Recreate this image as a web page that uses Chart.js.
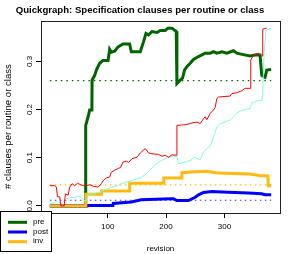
<!DOCTYPE html>
<html>
<head>
<meta charset="utf-8">
<script src="https://cdn.jsdelivr.net/npm/chart.js@4.4.0/dist/chart.umd.min.js"></script>
<style>
  html, body { margin: 0; padding: 0; background: #fff; }
  canvas { display: block; }
</style>
</head>
<body>
<canvas id="chart" width="294" height="254"></canvas>
<script>
// values (revision -> clauses per routine or class)
const preRev = [1, 62, 62.4, 66.5, 69.2, 73, 73.3, 77.8, 80.7, 86.3, 92.1, 100.7, 103.4, 106.3, 112, 117.8, 126.3, 137.6,
  140.5, 155.9, 161.5, 165.6, 170.1, 175.9, 184.4, 190.1, 198.6, 203.2, 210.1, 214.5, 217.5, 218.6, 224.3, 228.2, 231.6,
  235.7, 241.4, 247, 255.6, 267, 275.6, 281.2, 287, 295.6, 304.1, 315.4, 321.2, 332.5, 343.9, 352.5, 361, 363.9, 369.6,
  372.5, 380];
const preVal = [0, 0, 0.167, 0.185, 0.199, 0.199, 0.261, 0.271, 0.282, 0.296, 0.302, 0.302, 0.325, 0.319, 0.321, 0.330,
  0.336, 0.336, 0.32, 0.32, 0.341, 0.358, 0.355, 0.362, 0.36, 0.364, 0.364, 0.369, 0.369, 0.365, 0.362, 0.254, 0.261,
  0.265, 0.282, 0.289, 0.296, 0.304, 0.31, 0.317, 0.317, 0.32, 0.317, 0.32, 0.317, 0.322, 0.317, 0.314, 0.311, 0.313,
  0.313, 0.271, 0.267, 0.282, 0.283];

const postRev = [1, 64, 64.5, 109, 109.5, 140.5, 157.6, 207.2, 212.8, 218.6, 238.5, 249.9, 255.6, 264.1, 278.5, 295.6,
  341, 363.9, 369.6, 380];
const postVal = [0, 0, 0.001, 0.001, 0.005, 0.008, 0.0125, 0.0146, 0.0146, 0.011, 0.011, 0.018, 0.023, 0.028, 0.03,
  0.029, 0.027, 0.025, 0.023, 0.023];

const invRev = [1, 62.4, 62.6, 89.2, 89.4, 137.6, 137.8, 196, 196.2, 227, 227.2, 250, 270, 285, 300, 343, 360, 374.5,
  375, 380];
const invVal = [0, 0, 0.024, 0.024, 0.031, 0.031, 0.047, 0.047, 0.058, 0.058, 0.069, 0.071, 0.072, 0.069, 0.068, 0.066,
  0.063, 0.062, 0.042, 0.042];

const redRev = [1, 9.4, 12.3, 14, 17.9, 19.7, 25.5, 27.7, 32.3, 35, 39.1, 43.6, 48.2, 53.8, 57.9, 63.6, 69.2, 75, 83.6,
  89.2, 92.1, 97.8, 103.4, 106.3, 112, 116.6, 122.2, 126.3, 132, 135.9, 141.7, 150.3, 155.9, 164.4, 170.1, 175.9, 187.2,
  193, 198.6, 204.3, 210.1, 218.4, 218.6, 235.7, 244.3, 252.8, 258.5, 264.1, 267, 269.9, 275.6, 281.2, 284.1, 287, 289.7,
  309.7, 312.6, 321.2, 329.7, 335.4, 343.9, 345.1, 349.6, 358.1, 363.9, 365.4, 365.6, 372.5];
const redVal = [0.042, 0.042, 0.039, 0.019, 0.019, 0, 0, 0.025, 0.022, 0.039, 0.046, 0.042, 0.047, 0.044, 0.042, 0.042,
  0.044, 0.041, 0.039, 0.046, 0.052, 0.058, 0.06, 0.07, 0.074, 0.077, 0.08, 0.091, 0.093, 0.09, 0.098, 0.101, 0.11,
  0.119, 0.11, 0.108, 0.107, 0.103, 0.105, 0.101, 0.106, 0.105, 0.167, 0.169, 0.172, 0.174, 0.171, 0.181, 0.185, 0.179,
  0.192, 0.199, 0.204, 0.223, 0.226, 0.228, 0.233, 0.235, 0.239, 0.244, 0.244, 0.303, 0.313, 0.317, 0.311, 0.311, 0.367,
  0.369];

const cyanRev = [1, 6.7, 14, 20.9, 29.4, 36.2, 43.1, 49.9, 55, 60.2, 63.6, 67, 73.8, 82.4, 87.5, 94.4, 101.2, 109.7,
  116.6, 123.4, 132, 140.5, 149, 157.6, 166.2, 173, 181.5, 191.8, 202.1, 212.3, 218.6, 221.4, 232.8, 241.4, 247, 258.5,
  264.1, 269.9, 275.6, 281.2, 287, 292.6, 301.2, 309.7, 315.4, 321.2, 326.8, 335.4, 343.9, 346.8, 355.4, 363.9, 365.5,
  367.9, 371.3, 380];
const cyanVal = [0.004, 0.006, 0.009, 0.005, 0.015, 0.017, 0.018, 0.02, 0.017, 0.011, 0.011, 0.025, 0.024, 0.028, 0.028,
  0.033, 0.036, 0.04, 0.042, 0.046, 0.049, 0.052, 0.056, 0.059, 0.067, 0.075, 0.086, 0.094, 0.1, 0.103, 0.103, 0.0875,
  0.091, 0.094, 0.101, 0.096, 0.112, 0.119, 0.124, 0.143, 0.164, 0.171, 0.174, 0.178, 0.185, 0.192, 0.197, 0.2, 0.202,
  0.214, 0.218, 0.219, 0.23, 0.317, 0.365, 0.369];

// averages drawn as dotted lines
const meanRev = [1, 380];
const preMean = 0.26, postMean = 0.0117, invMean = 0.0437;

const xTicks = [0, 100, 200, 300];
const yTicks = [0, 0.1, 0.2, 0.3];
const legendNames = ['pre', 'post', 'inv'];

const FONT = "'Liberation Sans', Arial, Helvetica, sans-serif";
const GREEN = '#006400', BLUE = '#0000ff', ORANGE = '#ffb90f';

const pts = (rev, val) => rev.map((r, i) => ({x: r, y: val[i]}));
const flat = (rev, v) => rev.map(r => ({x: r, y: v}));

// R style 4% padding round the data range
const allRev = [].concat(preRev, postRev, invRev, redRev, cyanRev);
const allVal = [].concat(preVal, postVal, invVal, redVal, cyanVal);
const xLo = Math.min(...allRev), xHi = Math.max(...allRev);
const yLo = Math.min(...allVal), yHi = Math.max(...allVal);
const xPad = (xHi - xLo) * 0.04, yPad = (yHi - yLo) * 0.04;

const line = (data, color, width, order, dash) => ({
    data: data,
    borderColor: color,
    borderWidth: width,
    borderDash: dash || [],
    pointRadius: 0,
    tension: 0,
    fill: false,
    order: order
});

const datasets = [
    line(pts(redRev, redVal), '#ff0000', 1, 0),
    line(pts(cyanRev, cyanVal), '#7fffd4', 1, 1),
    line(pts(invRev, invVal), ORANGE, 3, 2),
    line(pts(postRev, postVal), BLUE, 3, 3),
    line(pts(preRev, preVal), GREEN, 3, 4),
    line(flat(meanRev, preMean), GREEN, 1.2, 5, [1.5, 4]),
    line(flat(meanRev, invMean), ORANGE, 1.2, 6, [1.5, 3.5]),
    line(flat(meanRev, postMean), '#3333ff', 1.2, 7, [1.5, 3.5])
];
const legendColors = [GREEN, BLUE, ORANGE];

const rFrame = {
    id: 'rFrame',
    afterDraw(chart) {
        const ctx = chart.ctx, a = chart.chartArea, y = chart.scales.y;
        ctx.save();
        // plot box
        ctx.strokeStyle = '#222';
        ctx.lineWidth = 1;
        ctx.strokeRect(Math.round(a.left) + 0.5, Math.round(a.top) + 0.5,
          Math.round(a.right - a.left), Math.round(a.bottom - a.top));

        // y tick labels, parallel to the axis
        ctx.fillStyle = '#000';
        ctx.font = '8px ' + FONT;
        ctx.textAlign = 'center';
        ctx.textBaseline = 'middle';
        yTicks.forEach(v => {
            ctx.save();
            ctx.translate(30, y.getPixelForValue(v));
            ctx.rotate(-Math.PI / 2);
            ctx.fillText(v.toFixed(1), 0, 0);
            ctx.restore();
        });

        // y axis title
        ctx.save();
        ctx.font = '9.6px ' + FONT;
        ctx.translate(8.5, 126.5);
        ctx.rotate(-Math.PI / 2);
        ctx.fillText('# clauses per routine or class', 0, 0);
        ctx.restore();

        // legend, bottom left over the axis
        ctx.fillStyle = '#fff';
        ctx.fillRect(0, 211, 52, 41);
        ctx.strokeStyle = '#000';
        ctx.strokeRect(0.5, 211.5, 51, 40);
        ctx.font = '8px ' + FONT;
        ctx.textAlign = 'left';
        legendNames.forEach((name, i) => {
            const ly = 222.3 + i * 9.7;
            ctx.strokeStyle = legendColors[i];
            ctx.lineWidth = 3;
            ctx.beginPath();
            ctx.moveTo(8, ly);
            ctx.lineTo(27, ly);
            ctx.stroke();
            ctx.fillStyle = '#000';
            ctx.fillText(name, 33, ly - 0.7);
        });
        ctx.restore();
    }
};

const chart = new Chart(document.getElementById('chart'), {
    type: 'line',
    data: {datasets: datasets},
    plugins: [rFrame],
    options: {
        responsive: false,
        animation: false,
        devicePixelRatio: 1,
        layout: {padding: {left: 0, right: 14, top: 0, bottom: 0}},
        plugins: {
            legend: {display: false},
            tooltip: {enabled: false},
            title: {
                display: true,
                text: 'Quickgraph: Specification clauses per routine or class',
                color: '#000',
                font: {family: FONT, size: 9.6, weight: 'bold'},
                padding: {top: 4.5, bottom: 5}
            }
        },
        scales: {
            x: {
                type: 'linear',
                min: xLo - xPad,
                max: xHi + xPad,
                afterBuildTicks: s => { s.ticks = xTicks.map(v => ({value: v})); },
                afterFit: s => { s.height = 41; },
                grid: {display: true, drawOnChartArea: false, drawTicks: true, tickLength: 5, color: '#000'},
                border: {display: true, color: '#222'},
                ticks: {color: '#000', font: {family: FONT, size: 8}, padding: 4, maxRotation: 0},
                title: {display: true, text: 'revision', color: '#000', font: {family: FONT, size: 8},
                    padding: {top: 0, bottom: 0}}
            },
            y: {
                type: 'linear',
                min: yLo - yPad,
                max: yHi + yPad,
                afterBuildTicks: s => { s.ticks = yTicks.map(v => ({value: v})); },
                afterFit: s => { s.width = 41; },
                grid: {display: true, drawOnChartArea: false, drawTicks: true, tickLength: 5, color: '#000'},
                border: {display: true, color: '#222'},
                ticks: {display: false}
            }
        }
    }
});
</script>
</body>
</html>
